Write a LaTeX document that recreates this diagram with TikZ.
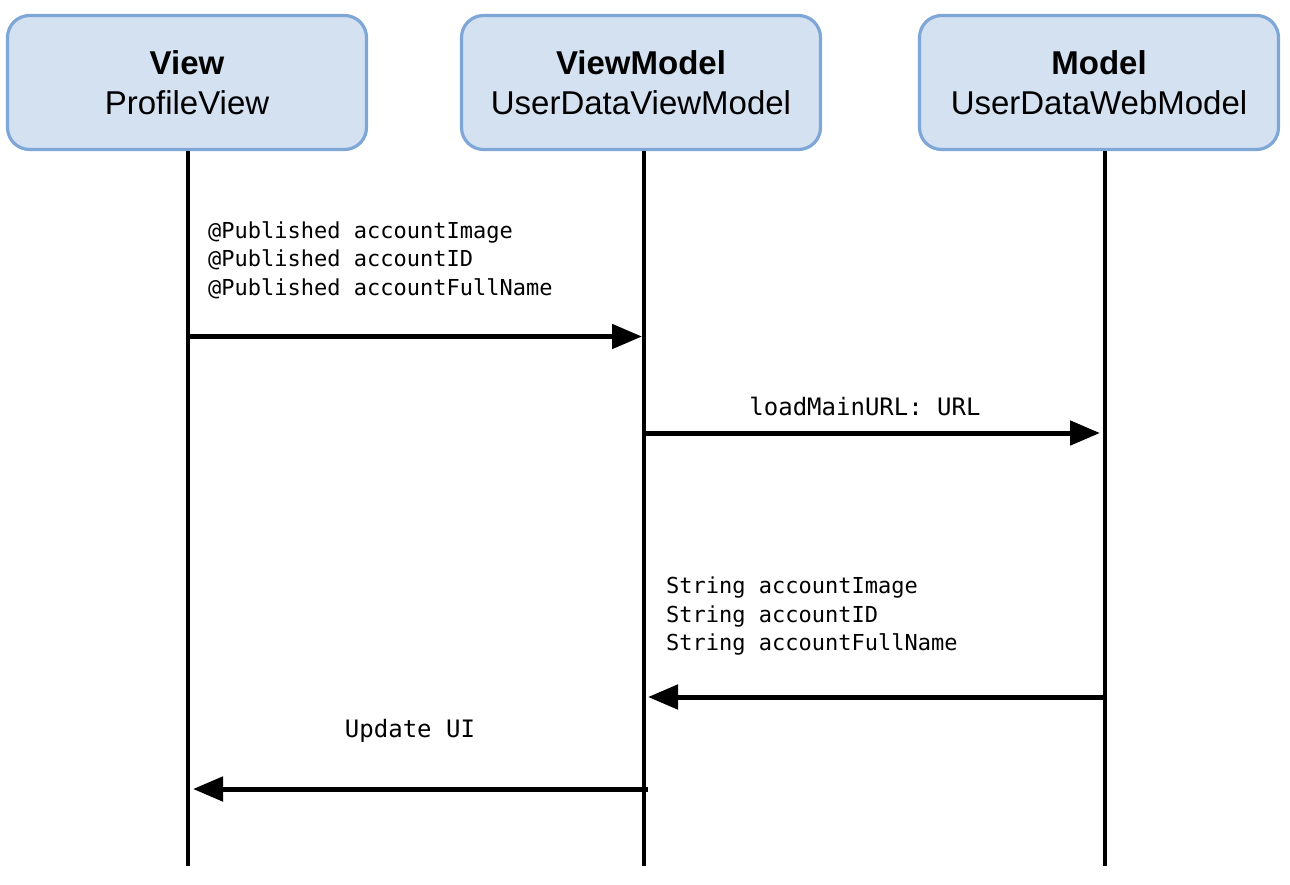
\documentclass[tikz,border=0pt]{standalone}
\usepackage{fontspec}
\setmainfont{Liberation Sans}
\newfontfamily\codefont{DejaVu Sans Mono}
\usetikzlibrary{arrows.meta}
\definecolor{boxfill}{HTML}{D4E1F1}
\definecolor{boxline}{HTML}{7EA6D6}
\begin{document}
\begin{tikzpicture}[x=1pt,y=-1pt,
  actor/.style={draw=boxline, fill=boxfill, line width=3.2pt, rounded corners=22pt,
    minimum width=359pt, minimum height=134pt, align=center, inner sep=0pt,
    font=\fontsize{33}{40}\selectfont},
  lifeline/.style={line width=4.5pt, black},
  msg/.style={line width=5pt, -{Triangle[length=30pt,width=24pt]}},
  code/.style={font=\codefont\fontsize{22}{28.5}\selectfont, align=left, inner sep=0pt},
  bigcode/.style={font=\codefont\fontsize{24}{28.5}\selectfont, inner sep=0pt}]
\useasboundingbox (0,0) rectangle (1290,884);

% participants
\node[actor] (view)  at (187,82.5)  {\textbf{View}\\ProfileView};
\node[actor] (vm)    at (641,82.5)  {\textbf{ViewModel}\\UserDataViewModel};
\node[actor] (model) at (1099,82.5) {\textbf{Model}\\UserDataWebModel};

% lifelines
\coordinate (viewend)  at (188,866);
\coordinate (vmend)    at (644,866);
\coordinate (modelend) at (1105,866);
\draw[lifeline] (view.south -| viewend) -- (viewend);
\draw[lifeline] (vm.south -| vmend) -- (vmend);
\draw[lifeline] (model.south -| modelend) -- (modelend);

% message endpoints
\coordinate (m1s) at (190,336.5);  \coordinate (m1e) at (642,336.5);
\coordinate (m2s) at (646,433);    \coordinate (m2e) at (1100,433);
\coordinate (m3s) at (1103,697);   \coordinate (m3e) at (648,697);
\coordinate (m4s) at (648,789);    \coordinate (m4e) at (193,789);

% messages
\draw[msg] (m1s) -- (m1e);
\draw[msg] (m2s) -- (m2e);
\draw[msg] (m3s) -- (m3e);
\draw[msg] (m4s) -- (m4e);

% labels
\node[code, anchor=west] (l1) at (208,260)
  {@Published accountImage\\@Published accountID\\@Published accountFullName};
\node[bigcode] (l2) at (865,406) {loadMainURL: URL};
\node[code, anchor=west] (l3) at (666,616)
  {String accountImage\\String accountID\\String accountFullName};
\node[bigcode] (l4) at (410,731) {Update UI};
\end{tikzpicture}
\end{document}
